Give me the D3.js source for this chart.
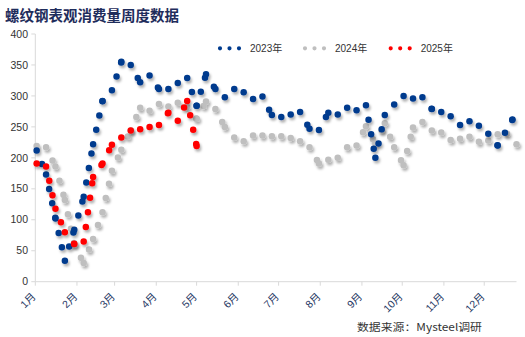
<!DOCTYPE html>
<html><head><meta charset="utf-8">
<script src="https://cdn.jsdelivr.net/npm/d3@7"></script>
<style>
html,body{margin:0;padding:0;background:#fff;}
svg{display:block;}
</style></head>
<body><div id="chart"></div>
<script>
// Week positions (shared calendar grid, MM-DD)
const weekDates = ["01-02","01-09","01-16","01-23","01-30","02-06","02-13","02-20","02-27","03-06","03-13","03-20","03-27","04-03","04-10","04-17","04-24","05-01","05-08","05-15","05-22","05-29","06-05","06-12","06-19","06-26","07-03","07-10","07-17","07-24","07-31","08-07","08-14","08-21","08-28","09-04","09-11","09-18","09-25","10-02","10-09","10-16","10-23","10-30","11-06","11-13","11-20","11-27","12-04","12-11","12-18","12-25"];
const dates2023 = weekDates.slice(0, 50).concat(["12-22"]);
const dates2024 = weekDates.slice();
const dates2025 = weekDates.slice(0, 18);

const values2023 = [212,173,102,34,84,137,222,292,309,355,350,322,333,311,311,321,329,284,335,311,298,311,306,295,299,269,266,270,274,247,245,273,270,281,277,285,200,269,286,300,296,298,279,274,267,253,259,252,239,220,262];
const values2024 = [219,217,186,132,60,30,69,112,179,213,244,281,276,287,283,289,282,263,291,279,250,233,227,236,236,235,235,232,227,217,191,197,200,217,220,251,223,256,217,188,249,258,244,241,229,231,234,226,228,238,239,222];
const values2025 = [191,186,118,80,61,65,169,191,221,233,244,246,250,253,273,260,292,219];

const seriesNames = ["2023年","2024年","2025年"];
const seriesColors = ["#003b8e","#bfbfbf","#ff0000"];
const monthLabels = ["1月","2月","3月","4月","5月","6月","7月","8月","9月","10月","11月","12月"];
const yTicks = [0,50,100,150,200,250,300,350,400];
const title = "螺纹钢表观消费量周度数据";
const source = "数据来源：Mysteel调研";

const W = 525, H = 337;
const parse = s => new Date(2023, +s.slice(0,2)-1, +s.slice(3,5));
const x = d3.scaleTime().domain([new Date(2023,0,1), new Date(2023,11,25)]).range([35.3, 516.5]);
const y = d3.scaleLinear().domain([0,400]).range([281.7, 34]);

const svg = d3.select("#chart").append("svg").attr("width", W).attr("height", H);
const defs = svg.append("defs");
const f = defs.append("filter").attr("id","sh").attr("x","-20%").attr("y","-20%").attr("width","140%").attr("height","140%");
f.append("feDropShadow").attr("dx",1.5).attr("dy",2.5).attr("stdDeviation",1.3).attr("flood-color","#000").attr("flood-opacity",0.3);

svg.append("text").attr("x",5).attr("y",21).text(title)
  .attr("font-family","'Noto Sans CJK SC', sans-serif").attr("font-weight",700)
  .attr("font-size",14.5).attr("fill","#1f2d5c");

// Y axis
const yAxis = svg.append("g");
yAxis.append("line").attr("x1",x.range()[0]).attr("x2",x.range()[0]).attr("y1",y(400)).attr("y2",y(0)).attr("stroke","#d9d9d9");
yTicks.forEach(t=>{
  yAxis.append("line").attr("x1",x.range()[0]-4).attr("x2",x.range()[0]).attr("y1",y(t)).attr("y2",y(t)).attr("stroke","#d9d9d9");
  yAxis.append("text").attr("x",28).attr("y",y(t)).attr("dy","0.35em").attr("text-anchor","end")
    .attr("font-family","'Liberation Sans', Arial, sans-serif").attr("font-size",10.5).attr("fill","#333").text(t);
});

// X axis
const xAxis = svg.append("g");
xAxis.append("line").attr("x1",x.range()[0]).attr("x2",x.range()[1]).attr("y1",y(0)).attr("y2",y(0)).attr("stroke","#d9d9d9");
monthLabels.forEach((m,i)=>{
  const px = x(new Date(2023,i,1));
  xAxis.append("line").attr("x1",px).attr("x2",px).attr("y1",y(0)).attr("y2",y(0)+4).attr("stroke","#d9d9d9");
  xAxis.append("text").attr("transform",`translate(${px-1.5},${y(0)+13}) rotate(-45)`)
    .attr("text-anchor","end").attr("dy","0.35em")
    .attr("font-family","'Liberation Sans','Noto Sans CJK SC', sans-serif").attr("font-size",10.5)
    .attr("fill","#1f3864").text(m);
});

// Series as dotted segments
const GAP = 14.7, SW = 6.5;
function drawSeries(dates, vals, color){
  const g = svg.append("g").attr("filter","url(#sh)");
  const pts = dates.map((d,i)=>[x(parse(d)), y(vals[i])]);
  for(let i=0;i<pts.length-1;i++){
    g.append("line").attr("x1",pts[i][0]).attr("y1",pts[i][1]).attr("x2",pts[i+1][0]).attr("y2",pts[i+1][1])
      .attr("stroke",color).attr("stroke-width",SW).attr("stroke-linecap","round").attr("stroke-dasharray",`0 ${GAP}`);
  }
  const last = pts[pts.length-1];
  g.append("circle").attr("cx",last[0]).attr("cy",last[1]).attr("r",SW/2).attr("fill",color);
}
drawSeries(dates2024, values2024, seriesColors[1]);
drawSeries(dates2023, values2023, seriesColors[0]);
drawSeries(dates2025, values2025, seriesColors[2]);

// Legend
const legX = [220, 305, 390.7];
seriesNames.forEach((n,i)=>{
  const lg = svg.append("g");
  lg.append("line").attr("x1",legX[i]).attr("x2",legX[i]+19.2).attr("y1",48.3).attr("y2",48.3)
    .attr("stroke",seriesColors[i]).attr("stroke-width",4.2).attr("stroke-linecap","round").attr("stroke-dasharray","0 9.5");
  lg.append("text").attr("x",legX[i]+30).attr("y",48.3).attr("dy","0.35em")
    .attr("font-family","'Liberation Sans','Noto Sans CJK SC', sans-serif").attr("font-size",10).attr("fill","#333").text(n);
});

svg.append("text").attr("x",357).attr("y",327).attr("dy","0.35em").text(source)
  .attr("font-family","'Noto Sans CJK SC', sans-serif").attr("font-size",10).attr("fill","#333")
  .attr("textLength",125).attr("lengthAdjust","spacingAndGlyphs");
</script></body></html>
